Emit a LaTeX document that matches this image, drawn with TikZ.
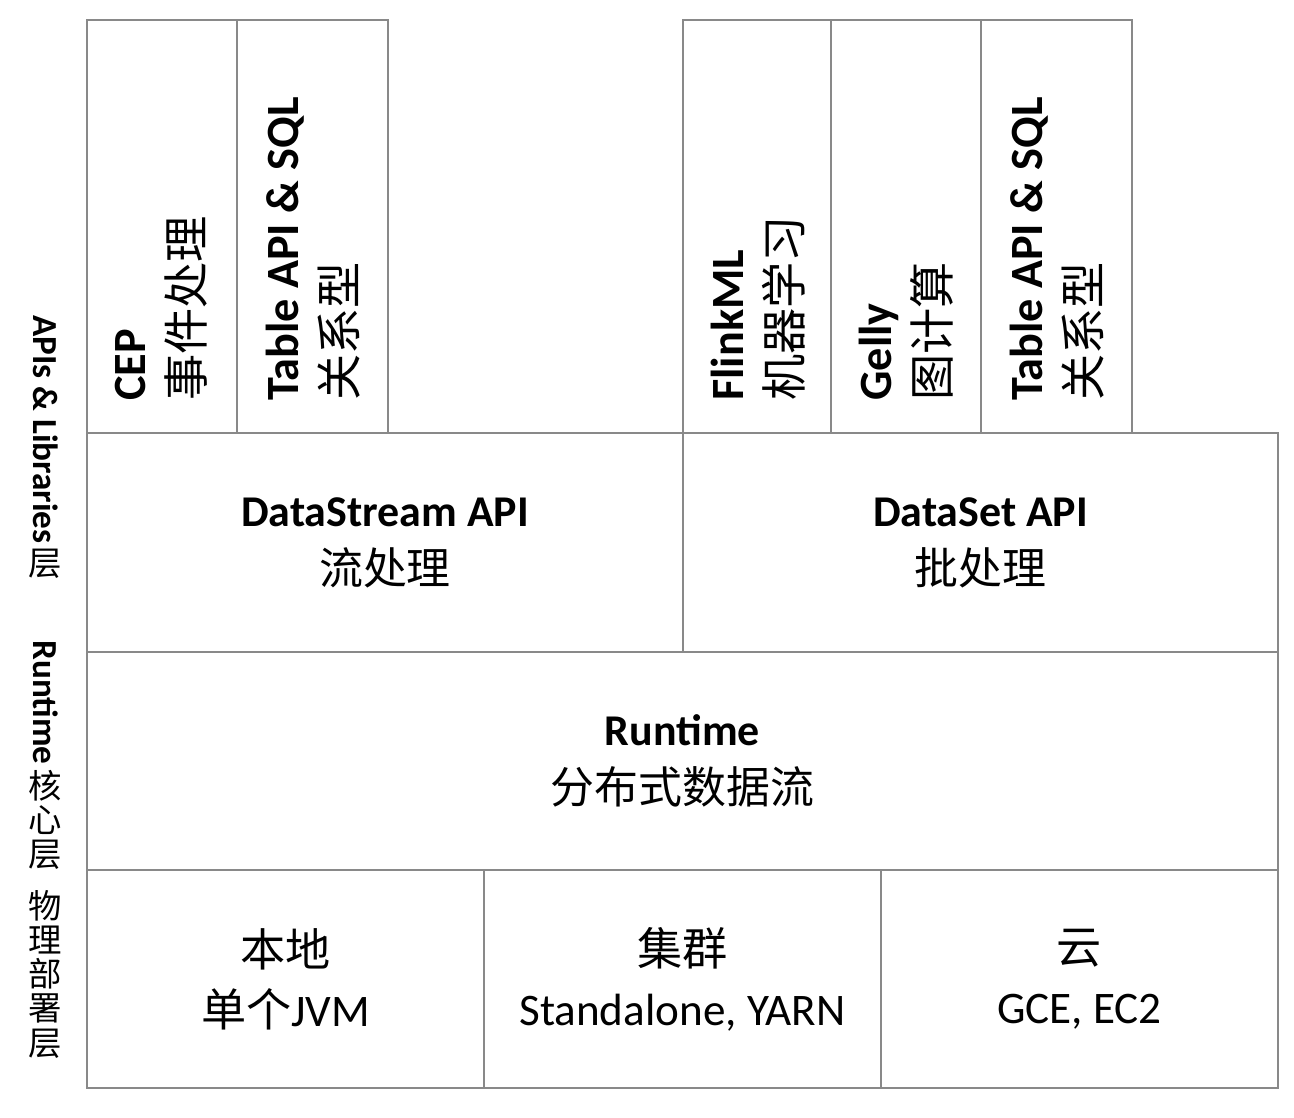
\documentclass[tikz,border=0pt]{standalone}
\usepackage{fontspec}
\setmainfont{Carlito}
\newfontfamily\zhfont{Noto Sans CJK SC}
\definecolor{layergray}{RGB}{137, 137, 137}
\tikzset{
	layer/.style={draw=layergray, line width=1.6pt},
	txt/.style={font=\fontsize{25}{33}\selectfont, align=center, inner sep=0pt},
	bottomtxt/.style={font=\fontsize{25.7}{34}\selectfont, align=center, inner sep=0pt},
	vtxt/.style={font=\fontsize{26.3}{33}\selectfont, align=left, inner sep=0pt, rotate=90, anchor=north west},
	side/.style={font=\fontsize{20}{24}\selectfont\bfseries, inner sep=0pt, rotate=-90, anchor=north west},
	sidezh/.style={font=\fontsize{19}{19.5}\selectfont\zhfont, align=center, inner sep=0pt}
}
\begin{document}
\begin{tikzpicture}[x=0.02cm, y=-0.02cm]
			\useasboundingbox (0, 0) rectangle (1294, 1118);
			\draw [layer] (87, 20) rectangle (237, 433);
			\draw [layer] (237, 20) rectangle (388, 433);
			\draw [layer] (683, 20) rectangle (831, 433);
			\draw [layer] (831, 20) rectangle (981, 433);
			\draw [layer] (981, 20) rectangle (1132, 433);
			\node [vtxt] (cep) at (115, 401) {\textbf{CEP}\\{\zhfont 事件处理}};
			\node [vtxt] (tablestream) at (266, 401) {\textbf{Table API \& SQL}\\{\zhfont 关系型}};
			\node [vtxt] (flinkml) at (711, 401) {\textbf{FlinkML}\\{\zhfont 机器学习}};
			\node [vtxt] (gelly) at (859, 401) {\textbf{Gelly}\\{\zhfont 图计算}};
			\node [vtxt] (tableset) at (1010, 401) {\textbf{Table API \& SQL}\\{\zhfont 关系型}};
			\draw [layer] (87, 433) rectangle (683, 652) node[midway, txt] (datastream) {\textbf{DataStream API}\\{\zhfont 流处理}};
			\draw [layer] (683, 433) rectangle (1278, 652) node[midway, txt] (dataset) {\textbf{DataSet API}\\{\zhfont 批处理}};
			\draw [layer] (87, 652) rectangle (1278, 870) node[midway, txt] (runtime) {\textbf{Runtime}\\{\zhfont 分布式数据流}};
			\draw [layer] (87, 870) rectangle (484, 1088) node[midway, bottomtxt] (local) {{\zhfont 本地}\\{\zhfont 单个}JVM};
			\draw [layer] (484, 870) rectangle (881, 1088) node[midway, bottomtxt] (cluster) {{\zhfont 集群}\\Standalone, YARN};
			\draw [layer] (881, 870) rectangle (1278, 1088) node[midway, bottomtxt] (cloud) {{\zhfont 云}\\GCE, EC2};
			\node [side] (apislbl) at (59, 315) {APIs \& Libraries};
			\node [sidezh] (apiszh) at (45, 564) {层};
			\node [side] (runtimelbl) at (59, 640) {Runtime};
			\node [sidezh] (runtimezh) at (45, 820) {核\\心\\层};
			\node [sidezh] (deploylbl) at (45, 974) {物\\理\\部\\署\\层};
		\end{tikzpicture}
\end{document}
